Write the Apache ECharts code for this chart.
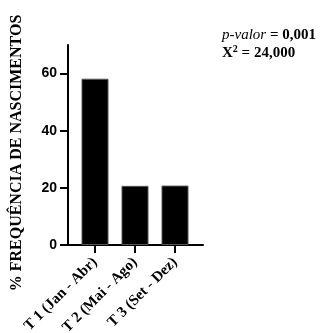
<!DOCTYPE html>
<html><head><meta charset="utf-8">
<script src="https://cdn.jsdelivr.net/npm/echarts@6/dist/echarts.min.js"></script>
<style>html,body{margin:0;padding:0;background:#fff}#c{width:328px;height:333px}</style>
</head><body><div id="c"></div>
<script>
const categories = ['T 1 (Jan - Abr)', 'T 2 (Mai - Ago)', 'T 3 (Set - Dez)'];
const values = [58.2, 20.7, 20.8];
const yTicks = [0, 20, 40, 60];
const positions = [1, 2, 3];

const chart = echarts.init(document.getElementById('c'), null, {renderer: 'canvas'});
chart.setOption({
  animation: false,
  grid: {left: 68, width: 135, top: 45, bottom: 88, outerBoundsMode: 'none', containLabel: false},
  xAxis: {
    type: 'value', min: 0.325, max: 3.7,
    splitLine: {show: false},
    axisLine: {show: true, lineStyle: {color: '#000', width: 2}},
    axisTick: {show: true, customValues: positions, length: 8, lineStyle: {color: '#000', width: 2}},
    axisLabel: {customValues: positions, rotate: 45, margin: 15, color: '#000',
      fontFamily: 'Liberation Serif', fontWeight: 'bold', fontSize: 15,
      formatter: v => categories[Math.round(v) - 1]}
  },
  yAxis: {
    type: 'value', min: 0, max: 70,
    name: '% FREQUÊNCIA DE NASCIMENTOS', nameLocation: 'middle', nameRotate: 90, nameGap: 43,
    nameTextStyle: {color: '#000', fontFamily: 'Liberation Serif', fontWeight: 'bold', fontSize: 16, padding: [0, 16, 0, 0]},
    splitLine: {show: false},
    axisLine: {show: true, lineStyle: {color: '#000', width: 2}},
    axisTick: {show: true, customValues: yTicks, length: 8, lineStyle: {color: '#000', width: 2}},
    axisLabel: {customValues: yTicks, margin: 11, color: '#000',
      fontFamily: 'Liberation Sans', fontWeight: 'bold', fontSize: 14}
  },
  series: [{
    type: 'bar', barWidth: 27,
    data: values.map((v, i) => [positions[i], v]),
    itemStyle: {color: '#000', borderColor: '#555', borderWidth: 1}
  }],
  graphic: [{
    type: 'text', left: 222, top: 28,
    style: {
      text: '{i|p-valor}{n| = 0,001}\n{n|X}{s|2}{n| = 24,000}',
      rich: {
        i: {fontFamily: 'Liberation Serif', fontStyle: 'italic', fontSize: 15, fill: '#000', lineHeight: 18},
        n: {fontFamily: 'Liberation Serif', fontWeight: 'bold', fontSize: 15, fill: '#000', lineHeight: 18},
        s: {fontFamily: 'Liberation Serif', fontWeight: 'bold', fontSize: 10, fill: '#000', padding: [0, 0, 8, 0], lineHeight: 18}
      }
    }
  }]
});
</script></body></html>
